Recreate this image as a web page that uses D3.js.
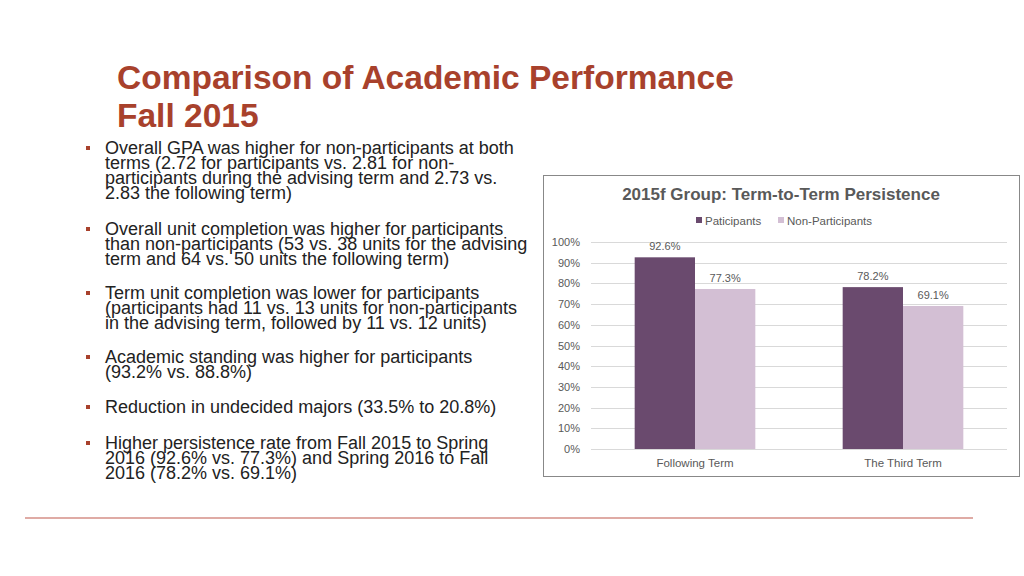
<!DOCTYPE html>
<html><head><meta charset="utf-8">
<script src="https://cdn.jsdelivr.net/npm/d3@7"></script>
<style>body{margin:0;background:#fff;font-family:"Liberation Sans",Arial,sans-serif}</style>
</head><body><svg id="s" width="1024" height="576"></svg>
<script>
var categories = ["Following Term", "The Third Term"];
var series = ["Paticipants", "Non-Participants"];
var participants = [0.926, 0.782];
var nonParticipants = [0.773, 0.691];
var yTicks = [0, .1, .2, .3, .4, .5, .6, .7, .8, .9, 1];
var colors = ["#6a4a6e", "#d3bfd4"];

var bullets = [
    ["Overall GPA was higher for non-participants at both", "terms (2.72 for participants vs. 2.81 for non-", "participants during the advising term and 2.73 vs.", "2.83 the following term)"],
    ["Overall unit completion was higher for participants", "than non-participants (53 vs. 38 units for the advising", "term and 64 vs. 50 units the following term)"],
    ["Term unit completion was lower for participants", "(participants had 11 vs. 13 units for non-participants", "in the advising term, followed by 11 vs. 12 units)"],
    ["Academic standing was higher for participants", "(93.2% vs. 88.8%)"],
    ["Reduction in undecided majors (33.5% to 20.8%)"],
    ["Higher persistence rate from Fall 2015 to Spring", "2016 (92.6% vs. 77.3%) and Spring 2016 to Fall", "2016 (78.2% vs. 69.1%)"]
];
var bulletTops = [154, 235, 299, 363, 413, 449];

var svg = d3.select("#s");

// slide title
svg.append("text").attr("x", 117).attr("y", 89).attr("fill", "#a8412c")
    .attr("font-size", 33.5).attr("font-weight", "bold").text("Comparison of Academic Performance");
svg.append("text").attr("x", 117).attr("y", 127).attr("fill", "#a8412c")
    .attr("font-size", 33.5).attr("font-weight", "bold").text("Fall 2015");

bullets.forEach(function(lines, i) {
    svg.append("rect").attr("x", 86).attr("y", bulletTops[i] - 8).attr("width", 4).attr("height", 4).attr("fill", "#a8412c");
    lines.forEach(function(l, j) {
        svg.append("text").attr("x", 105).attr("y", bulletTops[i] + j * 15)
            .attr("font-size", 18).attr("fill", "#222").text(l);
    });
});

svg.append("line").attr("x1", 25).attr("x2", 973).attr("y1", 518).attr("y2", 518)
    .attr("stroke", "#c0584c").attr("stroke-width", 1.2);

// chart box
svg.append("rect").attr("x", 543.5).attr("y", 175.5).attr("width", 476).attr("height", 301)
    .attr("fill", "#fff").attr("stroke", "#888");
svg.append("text").attr("x", 781).attr("y", 200).attr("text-anchor", "middle")
    .attr("font-size", 17).attr("font-weight", "bold").attr("fill", "#595959")
    .text("2015f Group: Term-to-Term Persistence");

var legX = [696, 778];
series.forEach(function(s, i) {
    svg.append("rect").attr("x", legX[i]).attr("y", 217).attr("width", 6).attr("height", 6).attr("fill", colors[i]);
    svg.append("text").attr("x", legX[i] + 9).attr("y", 225).attr("font-size", 11.5).attr("fill", "#595959").text(s);
});

var y = d3.scaleLinear().domain([0, 1]).range([449, 242]);
var x0 = d3.scaleBand().domain(categories).range([591, 1007]).paddingInner(0.42).paddingOuter(0.21);
var x1 = d3.scaleBand().domain(series).range([0, x0.bandwidth()]);

var g = svg.append("g");
g.selectAll(".grid").data(yTicks).enter().append("line")
    .attr("x1", 591).attr("x2", 1007).attr("y1", function(d) { return Math.round(y(d)) + 0.5; })
    .attr("y2", function(d) { return Math.round(y(d)) + 0.5; }).attr("stroke", "#d9d9d9");
g.selectAll(".yl").data(yTicks).enter().append("text")
    .attr("x", 580).attr("y", function(d) { return y(d) + 4; }).attr("text-anchor", "end")
    .attr("font-size", 11).attr("fill", "#595959").text(d3.format(".0%"));

var vals = [participants, nonParticipants];
series.forEach(function(s, si) {
    categories.forEach(function(c, ci) {
        var v = vals[si][ci], bx = x0(c) + x1(s);
        g.append("rect").attr("x", bx).attr("y", y(v)).attr("width", x1.bandwidth())
            .attr("height", y(0) - y(v)).attr("fill", colors[si]);
        g.append("text").attr("x", bx + x1.bandwidth() / 2).attr("y", y(v) - 7)
            .attr("text-anchor", "middle").attr("font-size", 11).attr("fill", "#595959")
            .text(d3.format(".1%")(v));
    });
});
categories.forEach(function(c) {
    g.append("text").attr("x", x0(c) + x0.bandwidth() / 2).attr("y", 467).attr("text-anchor", "middle")
        .attr("font-size", 11.5).attr("fill", "#595959").text(c);
});
</script></body></html>
